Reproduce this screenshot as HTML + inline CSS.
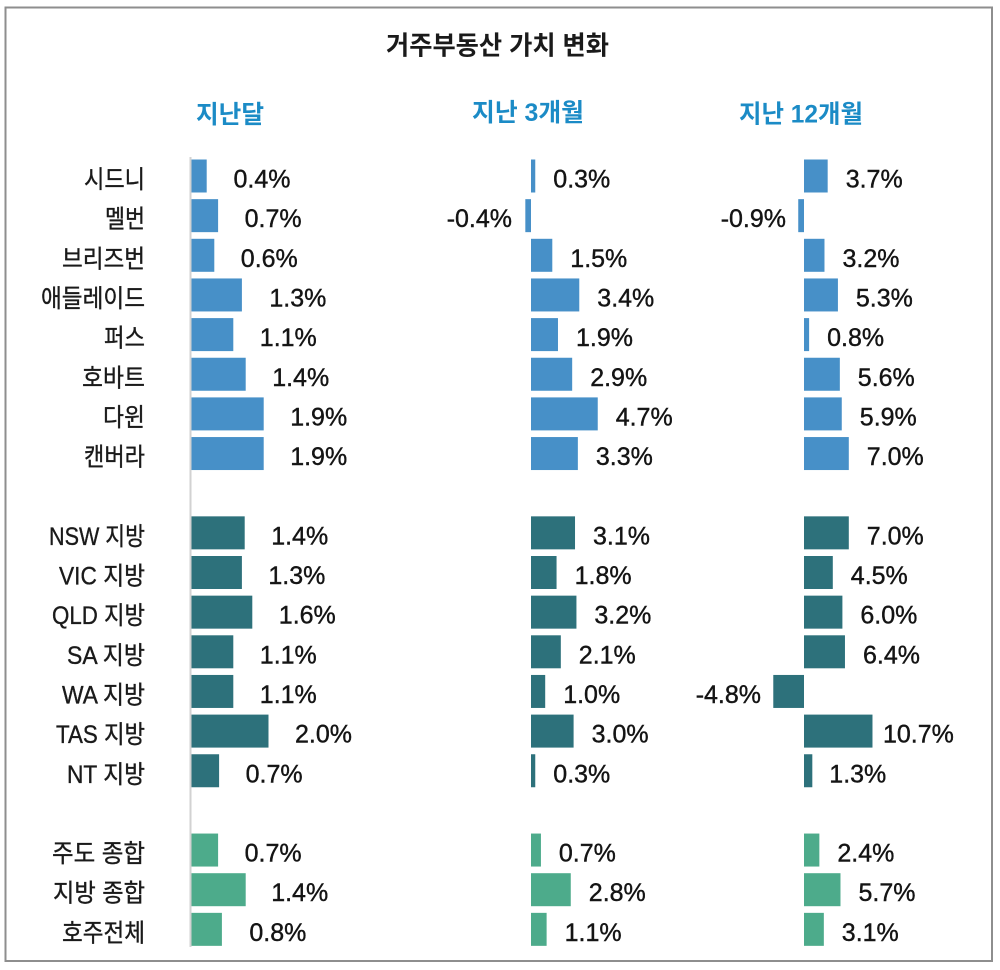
<!DOCTYPE html>
<html>
<head>
<meta charset="utf-8">
<style>
html,body{margin:0;padding:0;background:#fff;}
svg{display:block;}
.t{font-family:"Liberation Sans","Noto Sans CJK KR",sans-serif;}
.lab{font-family:"Liberation Sans","Noto Sans CJK KR",sans-serif;font-size:25px;fill:#1a1a1a;stroke:#1a1a1a;stroke-width:0.35px;}
.val{font-family:"Liberation Sans","Noto Sans CJK KR",sans-serif;font-size:25px;fill:#141414;stroke:#141414;stroke-width:0.4px;}
.hd{font-family:"Liberation Sans","Noto Sans CJK KR",sans-serif;font-size:25px;font-weight:bold;fill:#1b8bc6;}
.b1{fill:#4790c8;}
.b2{fill:#2d717b;}
.b3{fill:#4dab8b;}
</style>
</head>
<body>
<svg width="1000" height="970" viewBox="0 0 1000 970" xmlns="http://www.w3.org/2000/svg">
<rect x="0" y="0" width="1000" height="970" fill="#fff"/>
<rect x="5.5" y="7.5" width="986.5" height="953.5" fill="none" stroke="#8e8e8e" stroke-width="2"/>

<text class="t" x="386" y="54.5" font-size="26" font-weight="bold" fill="#1a1a1a" textLength="223" lengthAdjust="spacingAndGlyphs">거주부동산 가치 변화</text>

<text class="hd" x="196" y="123" textLength="68" lengthAdjust="spacingAndGlyphs">지난달</text>
<text class="hd" x="472" y="121" textLength="112" lengthAdjust="spacingAndGlyphs">지난 3개월</text>
<text class="hd" x="739" y="122.5" textLength="124" lengthAdjust="spacingAndGlyphs">지난 12개월</text>

<!-- axis line col1 -->
<rect x="189.5" y="157" width="2" height="790" fill="#d2d2d2"/>

<!-- row labels -->
<g class="lab" text-anchor="end">
<text x="145" y="188" textLength="61" lengthAdjust="spacingAndGlyphs">시드니</text>
<text x="145" y="227.65" textLength="40" lengthAdjust="spacingAndGlyphs">멜번</text>
<text x="145" y="267.3" textLength="83" lengthAdjust="spacingAndGlyphs">브리즈번</text>
<text x="145" y="306.95" textLength="104" lengthAdjust="spacingAndGlyphs">애들레이드</text>
<text x="145" y="346.6" textLength="41" lengthAdjust="spacingAndGlyphs">퍼스</text>
<text x="145" y="386.25" textLength="63" lengthAdjust="spacingAndGlyphs">호바트</text>
<text x="145" y="425.9" textLength="42" lengthAdjust="spacingAndGlyphs">다윈</text>
<text x="145" y="465.55" textLength="61" lengthAdjust="spacingAndGlyphs">캔버라</text>

<text x="145" y="544.85" textLength="96" lengthAdjust="spacingAndGlyphs">NSW 지방</text>
<text x="145" y="584.5" textLength="86" lengthAdjust="spacingAndGlyphs">VIC 지방</text>
<text x="145" y="624.15" textLength="93" lengthAdjust="spacingAndGlyphs">QLD 지방</text>
<text x="145" y="663.8" textLength="78" lengthAdjust="spacingAndGlyphs">SA 지방</text>
<text x="145" y="703.45" textLength="83" lengthAdjust="spacingAndGlyphs">WA 지방</text>
<text x="145" y="743.1" textLength="89" lengthAdjust="spacingAndGlyphs">TAS 지방</text>
<text x="145" y="782.75" textLength="78" lengthAdjust="spacingAndGlyphs">NT 지방</text>

<text x="145" y="862.05" textLength="93" lengthAdjust="spacingAndGlyphs">주도 종합</text>
<text x="145" y="901.7" textLength="92" lengthAdjust="spacingAndGlyphs">지방 종합</text>
<text x="145" y="941.35" textLength="83" lengthAdjust="spacingAndGlyphs">호주전체</text>
</g>

<!-- COLUMN 1 bars -->
<g>
<rect class="b1" x="191.5" y="159.5" width="15.2" height="33"/>
<rect class="b1" x="191.5" y="199.15" width="26.6" height="33"/>
<rect class="b1" x="191.5" y="238.8" width="22.8" height="33"/>
<rect class="b1" x="191.5" y="278.45" width="50.4" height="33"/>
<rect class="b1" x="191.5" y="318.1" width="41.8" height="33"/>
<rect class="b1" x="191.5" y="357.75" width="54.2" height="33"/>
<rect class="b1" x="191.5" y="397.4" width="72.2" height="33"/>
<rect class="b1" x="191.5" y="437.05" width="72.2" height="33"/>
<rect class="b2" x="191.5" y="516.35" width="53.2" height="33"/>
<rect class="b2" x="191.5" y="556" width="50.4" height="33"/>
<rect class="b2" x="191.5" y="595.65" width="60.8" height="33"/>
<rect class="b2" x="191.5" y="635.3" width="41.8" height="33"/>
<rect class="b2" x="191.5" y="674.95" width="41.8" height="33"/>
<rect class="b2" x="191.5" y="714.6" width="77" height="33"/>
<rect class="b2" x="191.5" y="754.25" width="27.6" height="33"/>
<rect class="b3" x="191.5" y="833.55" width="26.6" height="33"/>
<rect class="b3" x="191.5" y="873.2" width="54.2" height="33"/>
<rect class="b3" x="191.5" y="912.85" width="30.4" height="33"/>
</g>
<g class="val">
<text x="233.5" y="187.5">0.4%</text>
<text x="244.6" y="227.15">0.7%</text>
<text x="240.8" y="266.8">0.6%</text>
<text x="269.4" y="306.45">1.3%</text>
<text x="259.8" y="346.1">1.1%</text>
<text x="272.2" y="385.75">1.4%</text>
<text x="290.2" y="425.4">1.9%</text>
<text x="290.2" y="465.05">1.9%</text>
<text x="271.2" y="544.35">1.4%</text>
<text x="268.4" y="584">1.3%</text>
<text x="278.8" y="623.65">1.6%</text>
<text x="259.8" y="663.3">1.1%</text>
<text x="259.8" y="702.95">1.1%</text>
<text x="295" y="742.6">2.0%</text>
<text x="245.6" y="782.25">0.7%</text>
<text x="244.6" y="861.55">0.7%</text>
<text x="271.2" y="901.2">1.4%</text>
<text x="249.4" y="940.85">0.8%</text>
</g>

<!-- COLUMN 2 bars -->
<g>
<rect class="b1" x="531" y="159.5" width="4.26" height="33"/>
<rect class="b1" x="525.32" y="199.15" width="5.68" height="33"/>
<rect class="b1" x="531" y="238.8" width="21.3" height="33"/>
<rect class="b1" x="531" y="278.45" width="48.28" height="33"/>
<rect class="b1" x="531" y="318.1" width="26.98" height="33"/>
<rect class="b1" x="531" y="357.75" width="41.18" height="33"/>
<rect class="b1" x="531" y="397.4" width="66.74" height="33"/>
<rect class="b1" x="531" y="437.05" width="46.86" height="33"/>
<rect class="b2" x="531" y="516.35" width="44.02" height="33"/>
<rect class="b2" x="531" y="556" width="25.56" height="33"/>
<rect class="b2" x="531" y="595.65" width="45.44" height="33"/>
<rect class="b2" x="531" y="635.3" width="29.82" height="33"/>
<rect class="b2" x="531" y="674.95" width="14.2" height="33"/>
<rect class="b2" x="531" y="714.6" width="42.6" height="33"/>
<rect class="b2" x="531" y="754.25" width="4.26" height="33"/>
<rect class="b3" x="531" y="833.55" width="9.94" height="33"/>
<rect class="b3" x="531" y="873.2" width="39.76" height="33"/>
<rect class="b3" x="531" y="912.85" width="15.62" height="33"/>
</g>
<g class="val">
<text x="553.3" y="187.5">0.3%</text>
<text x="512" y="227.15" text-anchor="end">-0.4%</text>
<text x="570.3" y="266.8">1.5%</text>
<text x="597.3" y="306.45">3.4%</text>
<text x="576" y="346.1">1.9%</text>
<text x="590.2" y="385.75">2.9%</text>
<text x="615.7" y="425.4">4.7%</text>
<text x="595.9" y="465.05">3.3%</text>
<text x="593" y="544.35">3.1%</text>
<text x="574.6" y="584">1.8%</text>
<text x="594.4" y="623.65">3.2%</text>
<text x="578.8" y="663.3">2.1%</text>
<text x="563.2" y="702.95">1.0%</text>
<text x="591.6" y="742.6">3.0%</text>
<text x="553.3" y="782.25">0.3%</text>
<text x="558.9" y="861.55">0.7%</text>
<text x="588.8" y="901.2">2.8%</text>
<text x="564.6" y="940.85">1.1%</text>
</g>

<!-- COLUMN 3 bars -->
<g>
<rect class="b1" x="804" y="159.5" width="23.68" height="33"/>
<rect class="b1" x="798.24" y="199.15" width="5.76" height="33"/>
<rect class="b1" x="804" y="238.8" width="20.48" height="33"/>
<rect class="b1" x="804" y="278.45" width="33.92" height="33"/>
<rect class="b1" x="804" y="318.1" width="5.12" height="33"/>
<rect class="b1" x="804" y="357.75" width="35.84" height="33"/>
<rect class="b1" x="804" y="397.4" width="37.76" height="33"/>
<rect class="b1" x="804" y="437.05" width="44.8" height="33"/>
<rect class="b2" x="804" y="516.35" width="44.8" height="33"/>
<rect class="b2" x="804" y="556" width="28.8" height="33"/>
<rect class="b2" x="804" y="595.65" width="38.4" height="33"/>
<rect class="b2" x="804" y="635.3" width="40.96" height="33"/>
<rect class="b2" x="773.28" y="674.95" width="30.72" height="33"/>
<rect class="b2" x="804" y="714.6" width="68.48" height="33"/>
<rect class="b2" x="804" y="754.25" width="8.32" height="33"/>
<rect class="b3" x="804" y="833.55" width="15.36" height="33"/>
<rect class="b3" x="804" y="873.2" width="36.48" height="33"/>
<rect class="b3" x="804" y="912.85" width="19.84" height="33"/>
</g>
<g class="val">
<text x="845.7" y="187.5">3.7%</text>
<text x="786" y="227.15" text-anchor="end">-0.9%</text>
<text x="842.5" y="266.8">3.2%</text>
<text x="855.9" y="306.45">5.3%</text>
<text x="827.1" y="346.1">0.8%</text>
<text x="857.8" y="385.75">5.6%</text>
<text x="859.8" y="425.4">5.9%</text>
<text x="866.8" y="465.05">7.0%</text>
<text x="866.8" y="544.35">7.0%</text>
<text x="850.8" y="584">4.5%</text>
<text x="860.4" y="623.65">6.0%</text>
<text x="863" y="663.3">6.4%</text>
<text x="761" y="702.95" text-anchor="end">-4.8%</text>
<text x="883" y="742.6">10.7%</text>
<text x="829.3" y="782.25">1.3%</text>
<text x="837.4" y="861.55">2.4%</text>
<text x="858.5" y="901.2">5.7%</text>
<text x="841.8" y="940.85">3.1%</text>
</g>
</svg>
</body>
</html>
